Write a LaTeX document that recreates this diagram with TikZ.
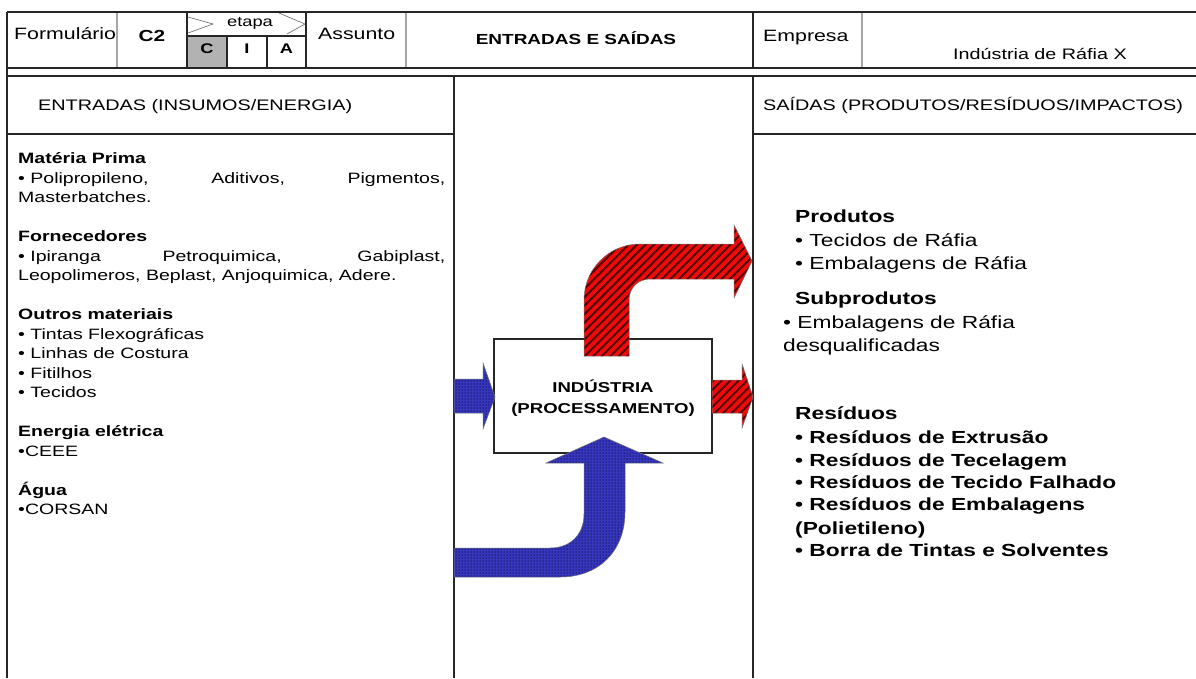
\documentclass[tikz,border=0pt]{standalone}
\usepackage{fontspec}
\setmainfont{Liberation Sans}[FakeStretch=1.3]
\usetikzlibrary{patterns,patterns.meta}
\definecolor{arrblue}{RGB}{55,55,190}
\definecolor{arrnavy}{RGB}{20,20,95}
\definecolor{arrred}{RGB}{240,10,10}
\definecolor{arrdark}{RGB}{80,0,0}
\definecolor{cellgray}{RGB}{178,178,178}
\begin{document}
\begin{tikzpicture}[x=1pt,y=-1pt,
  ln/.style={draw=black!85, line width=1.4pt},
  gl/.style={draw=black!35, line width=1.4pt},
  thin/.style={draw=black!60, line width=0.6pt},
  hd/.style={font=\fontsize{16.4}{18}\selectfont, inner sep=0pt, anchor=base west},
  sec/.style={font=\fontsize{15.25}{18}\selectfont, inner sep=0pt, anchor=base west},
  lt/.style={font=\fontsize{15}{19.5}\selectfont, inner sep=0pt, anchor=base west},
  lb/.style={font=\fontsize{15}{19.5}\selectfont\bfseries, inner sep=0pt, anchor=base west},
  rt/.style={font=\fontsize{17.5}{22}\selectfont, inner sep=0pt, anchor=base west},
  rb/.style={font=\fontsize{17.5}{22}\selectfont\bfseries, inner sep=0pt, anchor=base west},
  mid/.style={font=\fontsize{14.3}{18}\selectfont\bfseries, inner sep=0pt, anchor=base},
  redarrow/.style={fill=arrred,
     postaction={pattern={Lines[angle=45,distance=6pt,line width=2pt]}, pattern color=arrdark},
     postaction={draw=black!55, line width=0.5pt}},
  bluearrow/.style={fill=arrblue,
     postaction={pattern={Dots[distance=3pt,radius=0.75pt]}, pattern color=arrnavy},
     postaction={draw=black!55, line width=0.5pt}}
]
\useasboundingbox (0,0) rectangle (1196,678);
\fill[white] (0,0) rectangle (1196,678);

% ---------- header ----------
\fill[cellgray] (187,36) rectangle (227,68);
\draw[gl] (117,12) -- (117,68);
\draw[gl] (406,12) -- (406,68);
\draw[gl] (862,12) -- (862,68);
\draw[ln] (187,12) -- (187,68);
\draw[ln] (306,12) -- (306,68);
\draw[ln] (753,12) -- (753,68);
\draw[ln] (227,36) -- (227,68);
\draw[ln] (267,36) -- (267,68);
\draw[ln] (187,36) -- (306,36);
\draw[thin] (188,17) -- (213,24) -- (188,33);
\draw[thin] (279,13) -- (305,24) -- (287,34);
\draw[ln] (7,12) -- (1196,12);
\draw[ln] (7,68) -- (1196,68);
\draw[ln] (7,76) -- (1196,76);

\node[hd] (form) at (14,39.3) {Formulário};
\node[font=\fontsize{16}{18}\selectfont\bfseries, inner sep=0pt, anchor=base] (c2) at (152,41.7) {C2};
\node[font=\fontsize{14.1}{16}\selectfont, inner sep=0pt, anchor=base] (etapa) at (250,26.7) {etapa};
\node[font=\fontsize{14}{16}\selectfont\bfseries, inner sep=0pt, anchor=base] (cc) at (207,53.3) {C};
\node[font=\fontsize{14}{16}\selectfont\bfseries, inner sep=0pt, anchor=base] (ci) at (247,53.3) {I};
\node[font=\fontsize{14}{16}\selectfont\bfseries, inner sep=0pt, anchor=base] (ca) at (286.5,53.3) {A};
\node[hd] (assunto) at (318,39.3) {Assunto};
\node[font=\fontsize{14.6}{18}\selectfont\bfseries, inner sep=0pt, anchor=base] (titulo) at (576,44.3) {ENTRADAS E SAÍDAS};
\node[hd] (empresa) at (763,41.7) {Empresa};
\node[font=\fontsize{15.2}{18}\selectfont, inner sep=0pt, anchor=base west] (empnome) at (953,59.3) {Indústria de Ráfia X};

% ---------- body frame ----------
\draw[ln] (7,12) -- (7,678);
\draw[ln] (454,76) -- (454,678);
\draw[ln] (753,76) -- (753,678);
\draw[ln] (7,134) -- (454,134);
\draw[ln] (753,134) -- (1196,134);

\node[sec] (entr) at (38,110) {ENTRADAS (INSUMOS/ENERGIA)};
\node[sec] (said) at (763,110) {SAÍDAS (PRODUTOS/RESÍDUOS/IMPACTOS)};

% ---------- left column ----------
\node[lb] (mp) at (18,163.3) {Matéria Prima};
\node[lt] (mp1) at (18,183) {\makebox[427pt][s]{•\hspace{5.4pt}Polipropileno, Aditivos, Pigmentos,}};
\node[lt] (mp2) at (18,202.5) {Masterbatches.};
\node[lb] (fo) at (18,241.5) {Fornecedores};
\node[lt] (fo1) at (18,261) {\makebox[427pt][s]{•\hspace{5.4pt}Ipiranga Petroquimica, Gabiplast,}};
\node[lt] (fo2) at (18,280.5) {Leopolimeros, Beplast, Anjoquimica, Adere.};
\node[lb] (om) at (18,319.5) {Outros materiais};
\node[lt] (om1) at (18,339) {• Tintas Flexográficas};
\node[lt] (om2) at (18,358.5) {• Linhas de Costura};
\node[lt] (om3) at (18,378) {• Fitilhos};
\node[lt] (om4) at (18,397.5) {• Tecidos};
\node[lb] (ee) at (18,436.5) {Energia elétrica};
\node[lt] (ee1) at (18,456) {•CEEE};
\node[lb] (ag) at (18,495) {Água};
\node[lt] (ag1) at (18,514.5) {•CORSAN};

% ---------- right column ----------
\node[rb] (pr) at (795,222) {Produtos};
\node[rt] (pr1) at (795,246) {• Tecidos de Ráfia};
\node[rt] (pr2) at (795,269) {• Embalagens de Ráfia};
\node[rb] (sp) at (795,304) {Subprodutos};
\node[rt] (sp1) at (783,328) {• Embalagens de Ráfia};
\node[rt] (sp2) at (783,351) {desqualificadas};
\node[rb] (re) at (795,419.3) {Resíduos};
\node[rb] (re1) at (795,443.3) {• Resíduos de Extrusão};
\node[rb] (re2) at (795,466) {• Resíduos de Tecelagem};
\node[rb] (re3) at (795,488.3) {• Resíduos de Tecido Falhado};
\node[rb] (re4) at (795,510) {• Resíduos de Embalagens};
\node[rb] (re5) at (795,534) {(Polietileno)};
\node[rb] (re6) at (795,556.7) {• Borra de Tintas e Solventes};

% ---------- middle ----------
\node[draw=black!85, line width=1.2pt, fill=white, minimum width=218pt, minimum height=114pt, inner sep=0pt] (ind) at (603,396) {};
\node[mid] (ind1) at (603,392.7) {INDÚSTRIA};
\node[mid] (ind2) at (603,413.3) {(PROCESSAMENTO)};

% red bent arrow (up and right)
\path[redarrow] (584,356) -- (584,300) .. controls (584,269) and (609,244) .. (640,244)
  -- (734,244) -- (734,225) -- (752,261) -- (734,298) -- (734,279) -- (650,279)
  .. controls (638,279) and (629,288) .. (629,300) -- (629,356) -- cycle;
% red small arrow
\path[redarrow] (712,380) -- (742,380) -- (742,364) -- (753,397) -- (742,428) -- (742,413) -- (712,413) -- cycle;
% blue small arrow
\path[bluearrow] (454,379) -- (483,379) -- (483,363) -- (495,397) -- (483,429) -- (483,413) -- (454,413) -- cycle;
% blue bent arrow (right and up)
\path[bluearrow] (454,548) -- (550,548) .. controls (570,548) and (584,535) .. (584,514)
  -- (584,463) -- (546,463) -- (604,437) -- (663,463) -- (625,463) -- (625,512)
  .. controls (625,550) and (600,577) .. (560,577) -- (454,577) -- cycle;
\end{tikzpicture}
\end{document}
